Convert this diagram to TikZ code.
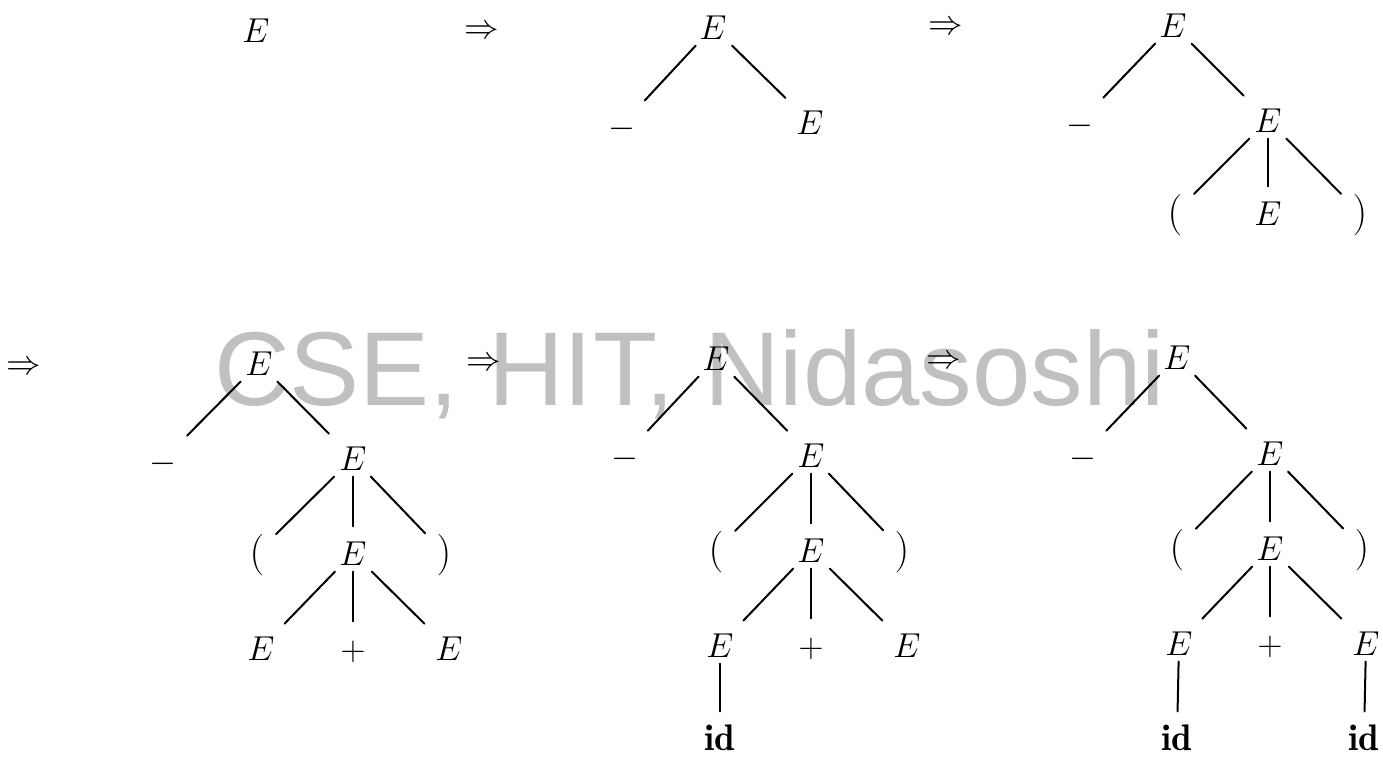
\documentclass[tikz,border=0pt]{standalone}
\usepackage{fontspec}
\newfontfamily\wmfont{Liberation Sans}
\definecolor{wmgray}{RGB}{192,192,192}

\begin{document}
\begin{tikzpicture}[x=0.5pt, y=-0.5pt, line width=1.0pt, line cap=round,
    tn/.style={inner sep=2.5pt, text height=12.6pt, text depth=0pt,
               font=\fontsize{18.5}{22}\selectfont},
    paren/.style={tn, font=\fontsize{22}{26}\selectfont},
    der/.style={inner sep=0pt, font=\fontsize{18.5}{22}\selectfont},
    edge/.style={shorten >=4pt}]

  %% ════ 水印 ════
  \node[anchor=base west, inner sep=0pt, text=wmgray,
        font=\wmfont\fontsize{52.5}{60}\selectfont] (wm) at (213,406) {CSE, HIT, Nidasoshi};

  %% ════ 第一行：E ⇒ 树 b ⇒ 树 c ════
  \node[tn] (ar) at (256,30) {$E$};
  \node[der] (d1) at (482,32) {$\Rightarrow$};

  \node[tn] (br) at (713,27)  {$E$};
  \node[tn] (bm) at (622,125) {$-$};
  \node[tn] (be) at (810,122) {$E$};
  \draw[edge] (br) -- (bm);
  \draw[edge] (br) -- (be);

  \node[der] (d2) at (946,28) {$\Rightarrow$};

  \node[tn] (cr)  at (1173,25)  {$E$};
  \node[tn] (cm)  at (1080,122) {$-$};
  \node[tn] (ce)  at (1268,120) {$E$};
  \node[paren] (clp) at (1175,213) {$($};
  \node[tn] (cee) at (1268,213) {$E$};
  \node[paren] (crp) at (1360,213) {$)$};
  \draw[edge] (cr) -- (cm);
  \draw[edge] (cr) -- (ce);
  \draw[edge] (ce) -- (clp);
  \draw[edge] (ce) -- (cee);
  \draw[edge] (ce) -- (crp);

  %% ════ 第二行：⇒ 树 d ⇒ 树 e ⇒ 树 f ════
  \node[der] (d3) at (24,368) {$\Rightarrow$};

  \node[tn] (dr)  at (259,363) {$E$};
  \node[tn] (dm)  at (163,460) {$-$};
  \node[tn] (de)  at (353,458) {$E$};
  \node[paren] (dlp) at (257,553) {$($};
  \node[tn] (dee) at (353,553) {$E$};
  \node[paren] (drp) at (444,553) {$)$};
  \node[tn] (del) at (261,648) {$E$};
  \node[tn] (dpl) at (353,648) {$+$};
  \node[tn] (der) at (449,648) {$E$};
  \draw[edge] (dr) -- (dm);
  \draw[edge] (dr) -- (de);
  \draw[edge] (de) -- (dlp);
  \draw[edge] (de) -- (dee);
  \draw[edge] (de) -- (drp);
  \draw[edge] (dee) -- (del);
  \draw[edge] (dee) -- (dpl);
  \draw[edge] (dee) -- (der);

  \node[der] (d4) at (484,364) {$\Rightarrow$};

  \node[tn] (er)  at (716,358) {$E$};
  \node[tn] (em)  at (625,455) {$-$};
  \node[tn] (ee)  at (811,455) {$E$};
  \node[paren] (elp) at (716,550) {$($};
  \node[tn] (eee) at (811,550) {$E$};
  \node[paren] (erp) at (902,550) {$)$};
  \node[tn] (eel) at (720,645) {$E$};
  \node[tn] (epl) at (811,645) {$+$};
  \node[tn] (eer) at (907,645) {$E$};
  \node[tn] (eid) at (720,738) {$\mathbf{id}$};
  \draw[edge] (er) -- (em);
  \draw[edge] (er) -- (ee);
  \draw[edge] (ee) -- (elp);
  \draw[edge] (ee) -- (eee);
  \draw[edge] (ee) -- (erp);
  \draw[edge] (eee) -- (eel);
  \draw[edge] (eee) -- (epl);
  \draw[edge] (eee) -- (eer);
  \draw[edge] (eel) -- (eid);

  \node[der] (d5) at (944,362) {$\Rightarrow$};

  \node[tn] (fr)   at (1177,357) {$E$};
  \node[tn] (fm)   at (1083,455) {$-$};
  \node[tn] (fe)   at (1270,453) {$E$};
  \node[paren] (flp)  at (1177,548) {$($};
  \node[tn] (fee)  at (1270,548) {$E$};
  \node[paren] (frp)  at (1362,548) {$)$};
  \node[tn] (fel)  at (1179,643) {$E$};
  \node[tn] (fpl)  at (1270,643) {$+$};
  \node[tn] (fer)  at (1366,643) {$E$};
  \node[tn] (fidl) at (1177,738) {$\mathbf{id}$};
  \node[tn] (fidr) at (1364,738) {$\mathbf{id}$};
  \draw[edge] (fr) -- (fm);
  \draw[edge] (fr) -- (fe);
  \draw[edge] (fe) -- (flp);
  \draw[edge] (fe) -- (fee);
  \draw[edge] (fe) -- (frp);
  \draw[edge] (fee) -- (fel);
  \draw[edge] (fee) -- (fpl);
  \draw[edge] (fee) -- (fer);
  \draw[edge] (fel) -- (fidl);
  \draw[edge] (fer) -- (fidr);

  % 钉死画布
  \pgfresetboundingbox
  \path[use as bounding box] (0,0) rectangle (1383,759);
\end{tikzpicture}
\end{document}
